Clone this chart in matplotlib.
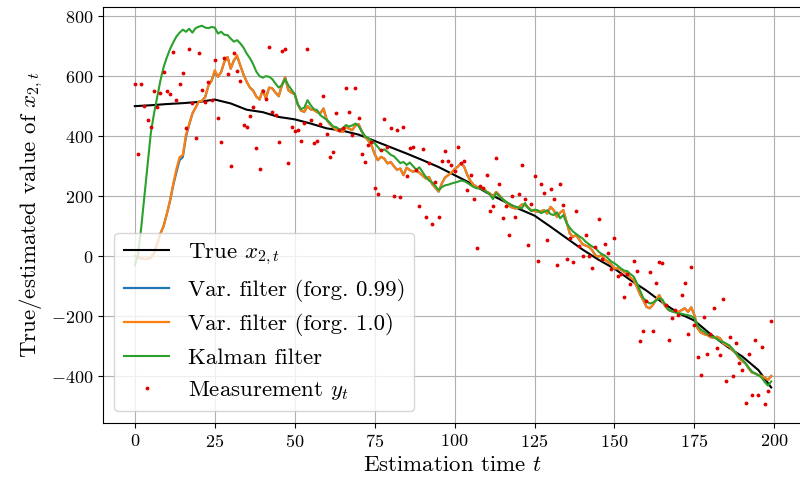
import numpy as np
import matplotlib
matplotlib.use("Agg")
import matplotlib.pyplot as plt

plt.rcParams['font.family'] = 'serif'
plt.rcParams['font.serif'] = ['cmr10']
plt.rcParams['mathtext.fontset'] = 'cm'
plt.rcParams['axes.formatter.use_mathtext'] = True

# estimation time
t = np.arange(200)

# true state, read every 5 steps
true_t = [0, 5, 10, 15, 20, 25, 30, 35, 40, 45, 50, 55, 60, 65, 70, 75, 80, 85, 90, 95,
          100, 105, 110, 115, 120, 125, 130, 135, 140, 145, 150, 155, 160, 165, 170, 175,
          180, 185, 190, 195, 199]
true_x = [500, 503, 507, 510, 514, 522, 509, 488, 480, 464, 456, 442, 426, 418, 405, 384,
          363, 342, 320, 297, 270, 243, 212, 185, 158, 135, 98, 60, 22, -12, -42, -80,
          -115, -155, -190, -215, -260, -300, -335, -380, -438]

# variational filter, forgetting factor 1.0
var_10 = [0, -5, -8, -10, -8, -6, 10, 40, 75, 100,
          140, 185, 240, 290, 330, 337, 405, 440, 475, 495,
          515, 518, 530, 568, 585, 620, 598, 614, 648, 664,
          625, 653, 670, 635, 605, 581, 562, 552, 532, 522,
          553, 526, 562, 559, 545, 533, 570, 596, 553, 545,
          540, 505, 485, 481, 500, 489, 487, 480, 476, 492,
          455, 440, 430, 420, 418, 414, 430, 425, 420, 436,
          440, 415, 398, 385, 370, 340, 320, 331, 325, 309,
          314, 300, 288, 292, 270, 295, 287, 281, 285, 278,
          268, 259, 264, 240, 228, 215, 242, 262, 270, 278,
          290, 298, 309, 298, 270, 250, 237, 230, 228, 226,
          215, 209, 198, 214, 203, 190, 181, 168, 162, 159,
          162, 172, 170, 162, 153, 150, 148, 150, 153, 142,
          164, 153, 131, 145, 153, 114, 76, 64, 70, 55,
          40, 35, 31, 20, 3, -2, 3, -13, -19, -28,
          -41, -41, -45, -52, -60, -72, -80, -102, -128, -147,
          -169, -174, -163, -145, -130, -152, -169, -180, -184, -186,
          -186, -180, -174, -186, -171, -197, -241, -255, -260, -263,
          -270, -272, -269, -274, -290, -297, -302, -315, -324, -341,
          -350, -358, -375, -388, -391, -397, -400, -405, -413, -400]

# variational filter, forgetting factor 0.99 (almost identical)
var_099 = [0, -5, -8, -10, -8, -6, 10, 40, 75, 100,
           140, 183, 236, 280, 320, 330, 398, 438, 475, 495,
           515, 518, 530, 568, 585, 615, 598, 614, 648, 664,
           625, 653, 665, 635, 605, 581, 562, 552, 532, 522,
           553, 526, 562, 559, 545, 533, 570, 596, 553, 545,
           540, 505, 485, 481, 500, 489, 487, 480, 476, 492,
           455, 440, 430, 420, 418, 414, 430, 425, 420, 436,
           440, 415, 398, 385, 370, 340, 320, 331, 325, 309,
           314, 300, 288, 292, 270, 295, 287, 281, 285, 278,
           268, 259, 264, 240, 228, 215, 242, 262, 270, 278,
           290, 298, 309, 298, 270, 250, 237, 230, 228, 226,
           215, 209, 198, 214, 203, 190, 181, 168, 162, 159,
           162, 172, 170, 162, 153, 150, 148, 150, 153, 142,
           164, 153, 131, 145, 153, 114, 76, 64, 70, 55,
           40, 35, 31, 20, 3, -2, 3, -13, -19, -28,
           -41, -41, -45, -52, -60, -72, -80, -102, -128, -147,
           -169, -174, -163, -145, -130, -152, -169, -180, -184, -186,
           -186, -180, -174, -186, -171, -197, -241, -255, -260, -263,
           -270, -272, -269, -274, -290, -297, -302, -315, -324, -341,
           -350, -358, -375, -388, -391, -397, -400, -405, -413, -400]

# Kalman filter
kalman = [-30, 5, 95, 200, 305, 410, 475, 530, 585, 630,
          662, 690, 712, 732, 745, 755, 748, 758, 745, 760,
          765, 768, 762, 760, 764, 762, 742, 748, 738, 737,
          725, 715, 720, 709, 695, 675, 660, 640, 615, 600,
          595, 600, 598, 590, 575, 562, 570, 590, 570, 555,
          540, 505, 490, 495, 520, 503, 490, 487, 470, 462,
          455, 445, 432, 430, 422, 425, 437, 432, 436, 442,
          433, 415, 400, 393, 385, 376, 364, 351, 356, 348,
          338, 333, 322, 310, 314, 304, 312, 300, 288, 296,
          280, 264, 252, 245, 234, 220, 230, 236, 238, 242,
          245, 248, 252, 250, 244, 237, 230, 226, 226, 220,
          214, 206, 190, 210, 200, 190, 182, 175, 168, 165,
          162, 159, 177, 160, 150, 155, 153, 143, 148, 153,
          140, 137, 146, 126, 137, 110, 95, 82, 74, 66,
          59, 48, 40, 32, 28, 15, 7, 2, -8, -18,
          -24, -32, -41, -48, -50, -60, -68, -90, -115, -140,
          -150, -158, -155, -148, -141, -145, -165, -180, -184, -188,
          -191, -192, -195, -197, -200, -208, -232, -245, -252, -260,
          -266, -269, -276, -283, -286, -292, -298, -310, -325, -336,
          -345, -358, -372, -385, -392, -397, -405, -420, -432, -418]

# noisy measurements y_t
meas = [573, 340, 573, 500, 453, 431, 551, 498, 544, 614,
        551, 542, 681, 522, 573, 609, 428, 691, 509, 393,
        676, 553, 515, 581, 522, 653, 462, 381, 660, 607,
        302, 676, 618, 585, 437, 430, 468, 498, 361, 289,
        550, 524, 698, 479, 471, 379, 683, 690, 311, 429,
        418, 422, 384, 445, 689, 453, 376, 383, 442, 534,
        407, 331, 346, 478, 420, 426, 560, 481, 403, 560,
        459, 339, 314, 370, 380, 227, 207, 355, 457, 363,
        427, 200, 419, 196, 430, 268, 359, 364, 287, 167,
        356, 130, 310, 107, 248, 129, 317, 350, 317, 304,
        285, 363, 311, 317, 220, 270, 190, 27, 234, 226,
        270, 150, 167, 328, 242, 127, 168, 72, 200, 132,
        207, 303, 189, 38, 173, 268, -17, 242, 210, 53,
        224, 191, -28, 242, 172, -8, 60, -21, 152, 33,
        0, 69, 1, -39, 30, 124, -10, 42, 10, -44,
        60, -67, -60, -138, -58, -94, -17, -49, -283, -250,
        -150, -54, -250, -91, -20, -22, -164, -281, -208, -180,
        -195, -129, -91, -260, -36, -230, -337, -397, -202, -327,
        -260, -173, -308, -329, -144, -416, -271, -400, -289, -358,
        -380, -489, -327, -462, -280, -462, -304, -493, -451, -216]

fig = plt.figure(figsize=(8, 4.8), dpi=100)
ax = fig.add_axes([0.12875, 0.119, 0.875, 0.8667])

ax.plot(true_t, true_x, color='black', lw=1.5, label=r'True $x_{2,t}$')
ax.plot(t, var_099, color='tab:blue', lw=1.6, label='Var. filter (forg. 0.99)')
ax.plot(t, var_10, color='tab:orange', lw=1.6, label='Var. filter (forg. 1.0)')
ax.plot(t, kalman, color='tab:green', lw=1.5, label='Kalman filter')
ax.plot(t, meas, '.', color='#e00000', markersize=3.5, label=r'Measurement $y_t$')

ax.grid(True, color='#b0b0b0', lw=0.8)
ax.set_xticks([0, 25, 50, 75, 100, 125, 150, 175, 200])
ax.tick_params(labelsize=13)
ax.set_xlabel(r'Estimation time $t$', fontsize=16.5)
ax.set_ylabel(r'True/estimated value of $x_{2,t}$', fontsize=16.5)
ax.legend(loc='lower left', fontsize=16.5, framealpha=0.8)

fig.savefig('out.png', dpi=100)
